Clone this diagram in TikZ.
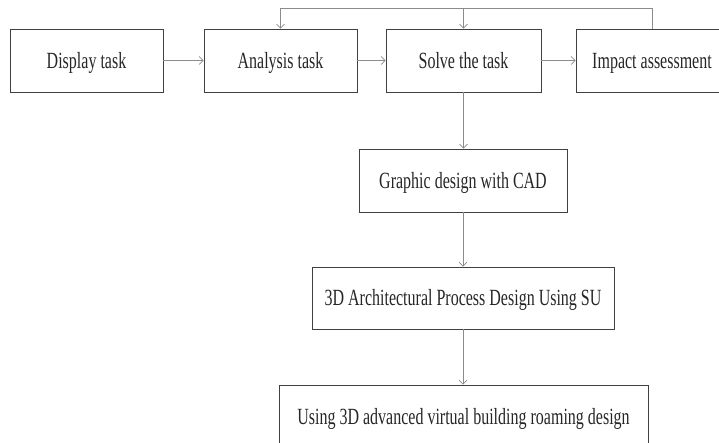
\documentclass[tikz,border=0pt]{standalone}
\usepackage{fontspec}
\usepackage{graphicx}
\setmainfont{Liberation Serif}
\usetikzlibrary{arrows.meta}
\definecolor{boxc}{HTML}{404040}
\definecolor{linec}{HTML}{8C8C8C}
\newcommand{\vt}[1]{\scalebox{1}[1.45]{#1}}
\begin{document}
\begin{tikzpicture}[x=1pt,y=-1pt,
  box/.style={draw=boxc,line width=0.9pt,inner sep=0pt,minimum height=63pt,text height=15.4pt,text depth=0pt,font=\fontsize{16}{16}\selectfont,text=black!85},
  conn/.style={draw=linec,line width=0.8pt,-{Straight Barb[length=4pt,width=8pt,line width=0.7pt]}}]
\useasboundingbox (0,0) rectangle (719,443);
\clip (0,0) rectangle (719,443);
\node[box,minimum width=153pt] (disp) at (86.5,60.5) {\vt{Display task}};
\node[box,minimum width=153pt] (ana) at (280.5,60.5) {\vt{Analysis task}};
\node[box,minimum width=155pt] (solve) at (463.5,60.5) {\vt{Solve the task}};
\node[box,minimum width=152pt] (imp) at (652,60.5) {\vt{Impact assessment}};
\node[box,minimum width=208pt] (cad) at (463,180.5) {\vt{Graphic design with CAD}};
\node[box,minimum width=302pt,minimum height=62pt] (su) at (463,298) {\vt{3D Architectural Process Design Using SU}};
\node[box,minimum width=369pt] (vr) at (463.5,416.5) {\vt{Using 3D advanced virtual building roaming design}};
\draw[conn] (disp) -- (ana);
\draw[conn] (ana) -- (solve);
\draw[conn] (solve) -- (imp);
\draw[conn] (imp.north) -- ++(0,-20) coordinate (top) -| (ana.north);
\draw[conn] (solve.north |- top) -- (solve.north);
\draw[conn] (solve.south) -- (solve.south |- cad.north);
\draw[conn] (cad.south) -- (cad.south |- su.north);
\draw[conn] (su.south) -- (su.south |- vr.north);
\end{tikzpicture}
\end{document}
